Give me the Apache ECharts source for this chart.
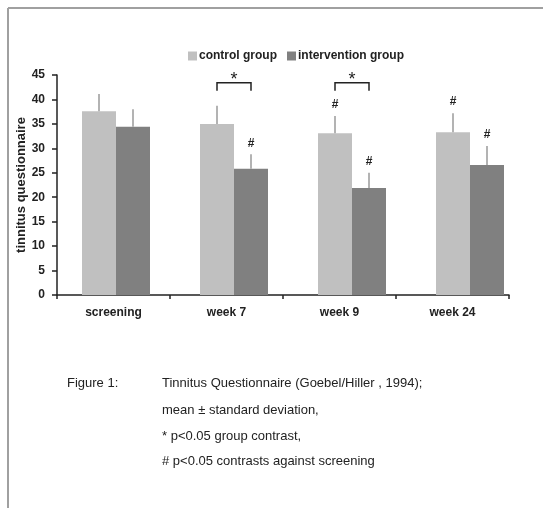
<!DOCTYPE html>
<html>
<head>
<meta charset="utf-8">
<script src="https://cdn.jsdelivr.net/npm/echarts@6/dist/echarts.min.js"></script>
<style>
html,body{margin:0;padding:0;background:#fff;}
#chart{width:543px;height:508px;}
</style>
</head>
<body>
<div id="chart"></div>
<script>
var categories = ['screening', 'week 7', 'week 9', 'week 24'];
var controlMean = [37.6, 35.0, 33.1, 33.3];
var controlSD = [3.5, 3.7, 3.5, 3.9];
var interventionMean = [34.4, 25.8, 21.9, 26.6];
var interventionSD = [3.6, 3.0, 3.1, 3.9];
var controlHash = [false, false, true, true];
var interventionHash = [false, true, true, true];
var groupContrast = [false, true, true, false];
var bracketLevel = 43.4;
var yTicks = [0, 45, 5];

var FONT = '"Liberation Sans", Arial, sans-serif';
var chart = echarts.init(document.getElementById('chart'));
var HALF = 17;

function errData(means, sds, flags, side) {
  return means.map(function (m, i) { return [i, m, sds[i], flags[i] ? 1 : 0, side]; });
}
function errRender(params, api) {
  var i = api.value(0), m = api.value(1), sd = api.value(2), flag = api.value(3), side = api.value(4);
  var base = api.coord([i, m]);
  var top = api.coord([i, m + sd]);
  var x = base[0] + side * HALF;
  var children = [{
    type: 'line',
    shape: { x1: x, y1: base[1], x2: x, y2: top[1] },
    style: { stroke: '#9a9a9a', lineWidth: 1.5 }
  }];
  if (flag) {
    children.push({
      type: 'text',
      style: { text: '#', x: x, y: top[1] - 11, textAlign: 'center', textVerticalAlign: 'middle',
        font: 'bold 12px ' + FONT, fill: '#222' }
    });
  }
  return { type: 'group', children: children };
}

var bracketData = [];
groupContrast.forEach(function (g, i) { if (g) bracketData.push([i, bracketLevel]); });

chart.setOption({
  animation: false,
  backgroundColor: '#fff',
  legend: {
    left: 183, top: 45, itemWidth: 9, itemHeight: 9, itemGap: 10,
    icon: 'rect',
    textStyle: { fontFamily: FONT, fontWeight: 'bold', fontSize: 12, color: '#222', padding: [0, 0, 0, -3] },
    data: ['control group', 'intervention group']
  },
  grid: [
    { left: 57, top: 75, width: 472, height: 220 },
    { left: 57, top: 75, width: 452, height: 220 }
  ],
  xAxis: [
    { type: 'category', gridIndex: 0, data: categories, show: false },
    { type: 'category', gridIndex: 1, data: categories,
      axisLine: { lineStyle: { color: '#222', width: 1.5 } },
      axisTick: { show: true, length: 4, inside: false, lineStyle: { color: '#222', width: 1.5 } },
      axisLabel: { margin: 12, fontFamily: FONT, fontWeight: 'bold', fontSize: 12, color: '#222' } }
  ],
  yAxis: [
    { type: 'value', gridIndex: 0, min: yTicks[0], max: yTicks[1], interval: yTicks[2], show: false },
    { type: 'value', gridIndex: 1, min: yTicks[0], max: yTicks[1], interval: yTicks[2],
      name: 'tinnitus questionnaire', nameLocation: 'middle', nameGap: 29, nameRotate: 90,
      nameMoveOverlap: false,
      nameTextStyle: { fontFamily: FONT, fontWeight: 'bold', fontSize: 13, color: '#222' },
      axisLine: { show: true, lineStyle: { color: '#222', width: 1.5 } },
      axisTick: { show: true, length: 5, lineStyle: { color: '#222', width: 1.5 } },
      splitLine: { show: false },
      axisLabel: { margin: 12, fontFamily: FONT, fontWeight: 'bold', fontSize: 12, color: '#222' } }
  ],
  series: [
    { name: 'control group', type: 'bar', xAxisIndex: 0, yAxisIndex: 0, barWidth: 34, barGap: '0%',
      itemStyle: { color: '#c0c0c0' }, data: controlMean },
    { name: 'intervention group', type: 'bar', xAxisIndex: 0, yAxisIndex: 0, barWidth: 34, barGap: '0%',
      itemStyle: { color: '#808080' }, data: interventionMean },
    { type: 'custom', xAxisIndex: 0, yAxisIndex: 0, renderItem: errRender, z: 5,
      data: errData(controlMean, controlSD, controlHash, -1) },
    { type: 'custom', xAxisIndex: 0, yAxisIndex: 0, renderItem: errRender, z: 5,
      data: errData(interventionMean, interventionSD, interventionHash, 1) },
    { type: 'custom', xAxisIndex: 0, yAxisIndex: 0, z: 5,
      renderItem: function (params, api) {
        var i = api.value(0), lvl = api.value(1);
        var p = api.coord([i, lvl]);
        var x1 = p[0] - HALF, x2 = p[0] + HALF, y = p[1];
        return { type: 'group', children: [
          { type: 'polyline', shape: { points: [[x1, y + 8], [x1, y], [x2, y], [x2, y + 8]] },
            style: { stroke: '#222', lineWidth: 1.5, fill: null } },
          { type: 'text', style: { text: '*', x: p[0], y: y - 3, textAlign: 'center', textVerticalAlign: 'middle',
            font: '18px ' + FONT, fill: '#222' } }
        ] };
      },
      data: bracketData }
  ],
  graphic: [
    { type: 'line', shape: { x1: 8, y1: 8, x2: 543, y2: 8 }, style: { stroke: '#a0a0a0', lineWidth: 2 } },
    { type: 'line', shape: { x1: 8, y1: 8, x2: 8, y2: 508 }, style: { stroke: '#a0a0a0', lineWidth: 2 } },
    { type: 'text', left: 67, top: 377, style: { text: 'Figure 1:', font: '13px ' + FONT, fill: '#222' } },
    { type: 'text', left: 162, top: 377, style: { text: 'Tinnitus Questionnaire (Goebel/Hiller , 1994);', font: '13px ' + FONT, fill: '#222' } },
    { type: 'text', left: 162, top: 404, style: { text: 'mean \u00b1 standard deviation,', font: '13px ' + FONT, fill: '#222' } },
    { type: 'text', left: 162, top: 430, style: { text: '* p<0.05 group contrast,', font: '13px ' + FONT, fill: '#222' } },
    { type: 'text', left: 162, top: 455, style: { text: '# p<0.05 contrasts against screening', font: '13px ' + FONT, fill: '#222' } }
  ]
});
</script>
</body>
</html>
